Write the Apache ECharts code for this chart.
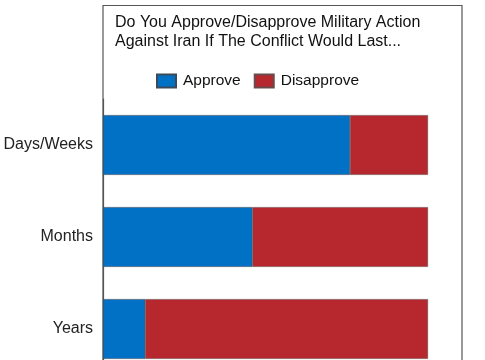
<!DOCTYPE html>
<html>
<head>
<meta charset="utf-8">
<script src="https://cdn.jsdelivr.net/npm/echarts@6/dist/echarts.min.js"></script>
<style>html,body{margin:0;padding:0;background:#fff;overflow:hidden;width:485px;height:360px;}#c{width:485px;height:400px;}</style>
</head>
<body>
<div id="c"></div>
<script>
var categories = ['Days/Weeks', 'Months', 'Years'];
var approve = [76, 46, 13];
var disapprove = [24, 54, 87];
var seriesNames = ['Approve', 'Disapprove'];
var titleText = 'Do You Approve/Disapprove Military Action\nAgainst Iran If The Conflict Would Last...';

var chart = echarts.init(document.getElementById('c'), null, {renderer: 'canvas'});
var font = 'Liberation Sans, Arial, sans-serif';
chart.setOption({
  backgroundColor: '#fff',
  animation: false,
  title: {
    text: titleText,
    left: 115, top: 13, padding: 0,
    textStyle: {fontFamily: font, fontSize: 16, fontWeight: 'normal', color: '#111', lineHeight: 19}
  },
  legend: {
    data: seriesNames,
    left: 156, top: 73, padding: 0,
    itemWidth: 19, itemHeight: 13, itemGap: 13,
    icon: 'rect',
    textStyle: {fontFamily: font, fontSize: 15.5, color: '#111', padding: [0, 0, 0, 2]}
  },
  graphic: [{
    type: 'rect', z: 0, silent: true,
    shape: {x: 103, y: 5.5, width: 359, height: 420},
    style: {fill: 'none', stroke: '#555', lineWidth: 1.2}
  }],
  grid: {left: 103, right: 57, top: 99, height: 276, containLabel: false},
  xAxis: {
    type: 'value', min: 0, max: 100, show: false
  },
  yAxis: {
    type: 'category', data: categories, inverse: true,
    axisLine: {show: true, lineStyle: {color: '#555', width: 1.2}},
    axisTick: {show: false},
    axisLabel: {fontFamily: font, fontSize: 16, color: '#222', margin: 10}
  },
  series: [{
    name: seriesNames[0], type: 'bar', stack: 'total', data: approve,
    barCategoryGap: '35%',
    itemStyle: {color: '#0071C5', borderColor: '#3a4a5a', borderWidth: 0.6}
  }, {
    name: seriesNames[1], type: 'bar', stack: 'total', data: disapprove,
    barCategoryGap: '35%',
    itemStyle: {color: '#B7282E', borderColor: '#6a4a4a', borderWidth: 0.6}
  }]
});
</script>
</body>
</html>
